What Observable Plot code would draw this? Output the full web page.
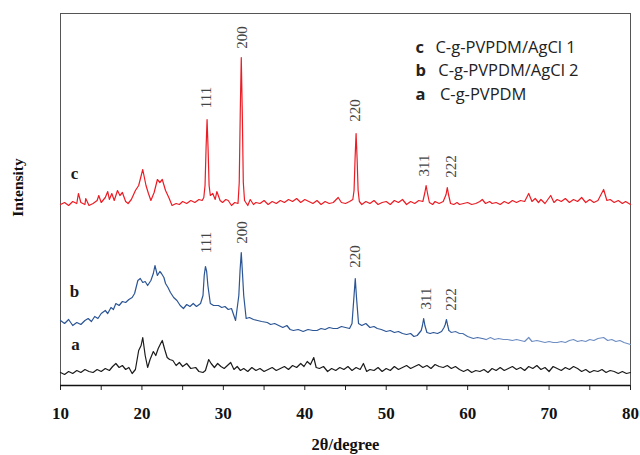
<!DOCTYPE html>
<html>
<head>
<meta charset="utf-8">
<script src="https://cdn.jsdelivr.net/npm/d3@7"></script>
<script src="https://cdn.jsdelivr.net/npm/@observablehq/plot@0.6"></script>
<style>
  html, body { margin: 0; padding: 0; background: #fff; }
  #chart svg { display: block; }
</style>
</head>
<body>
<div id="chart"></div>
<script>
// ---- data (2θ in degrees, intensity in arbitrary units) ----
const seriesC = [
[10,181],[10.5,183],[11,180],[11.5,184],[12,182],[12.2,192],[12.5,183],[13,181],[13.1,187],[13.5,180],
[14,182],[14.5,185],[14.7,190],[15,183],[15.5,188],[15.8,194],[16,186],[16.3,192],[16.6,185],[17,195],
[17.3,190],[17.6,193],[18,184],[18.3,182],[18.7,186],[19.2,195],[19.6,200],[20.1,216],[20.5,200],[20.8,192],
[21.1,185],[21.5,193],[21.9,206],[22.2,203],[22.5,206],[22.9,195],[23.3,188],[23.7,180],[24.2,182],[24.6,181],
[25,184],[25.5,182],[26,185],[26.5,183],[27,186],[27.4,185],[27.6,188],[27.75,200],[27.88,238],[28.0,266],
[28.12,238],[28.25,200],[28.4,190],[28.7,192],[29,186],[29.2,194],[29.6,185],[29.9,183],[30.3,186],[30.6,185],
[31,180],[31.4,183],[31.8,182],[31.95,203],[32.08,275],[32.2,328],[32.32,275],[32.45,203],[32.6,185],[33,180],
[33.3,186],[33.7,181],[34,183],[34.5,182],[35,185],[35.5,181],[36,184],[36.5,182],[37,185],[37.5,183],
[38,186],[38.5,184],[39,187],[39.5,183],[40,186],[40.5,184],[41,182],[41.5,185],[42,181],[42.5,184],
[43,182],[43.5,183],[44.1,188],[44.5,183],[45,182],[45.5,184],[45.9,186],[46.05,195],[46.18,228],[46.3,252],
[46.42,228],[46.55,195],[46.7,184],[47,181],[47.5,184],[48,182],[48.5,185],[49,181],[49.5,183],[50,184],
[50.5,181],[51,185],[51.5,183],[52,186],[52.5,181],[53,184],[53.5,182],[54,185],[54.5,184],[54.75,193],
[54.9,200],[55.05,193],[55.3,183],[55.7,181],[56,184],[56.5,182],[57,184],[57.35,191],[57.5,198],[57.65,191],
[57.9,182],[58.3,181],[58.7,183],[59,181],[59.5,182],[60,183],[60.5,181],[61,182],[61.5,184],[61.8,186],
[62.2,182],[62.7,184],[63,182],[63.5,183],[64,181],[64.5,184],[65,182],[65.5,185],[66,183],[66.5,185],
[67,184],[67.5,192],[67.9,184],[68.3,187],[68.7,183],[69,186],[69.5,182],[70.2,190],[70.6,183],[71,186],
[71.5,184],[72,187],[72.5,183],[73,186],[73.5,184],[74,188],[74.5,183],[75,186],[75.5,183],[76,185],
[76.7,196],[77.1,185],[77.5,186],[78,183],[78.5,185],[79,182],[79.4,184],[80,181]
];

const seriesB = [
[10,65],[10.5,62],[11,66],[11.5,60],[12,63],[12.5,61],[13,65],[13.4,67],[13.8,64],[14.2,69],
[14.6,67],[15,72],[15.5,75],[15.8,72],[16.2,78],[16.5,76],[16.8,82],[17.2,80],[17.6,84],[18,83],
[18.4,86],[18.8,88],[19.1,92],[19.5,105],[19.8,107],[20.1,103],[20.4,104],[20.7,100],[21.1,105],[21.4,112],
[21.6,120],[21.9,110],[22.2,114],[22.4,112],[22.7,108],[22.9,102],[23.2,98],[23.5,93],[23.9,88],[24.3,85],
[24.7,80],[25.1,77],[25.5,81],[25.9,79],[26.3,82],[26.7,79],[27.2,82],[27.5,90],[27.65,110],[27.8,119],
[27.95,114],[28.1,100],[28.4,82],[28.8,80],[29.4,80],[29.8,78],[30.2,79],[30.6,76],[31,77],[31.5,65],
[31.9,90],[32.05,115],[32.2,133],[32.35,112],[32.5,90],[32.8,67],[33.2,68],[33.7,66],[34.2,65],[34.7,64],
[35.4,63],[35.8,61],[36.3,62],[36.8,60],[37.3,58],[37.8,60],[38.2,56],[38.6,55],[39.2,56],[39.8,54],
[40.4,56],[41,55],[41.5,55],[42,57],[42.5,56],[43,58],[43.5,57],[44,57],[44.5,59],[45,58],
[45.5,57],[45.8,62],[46.05,90],[46.2,107],[46.35,88],[46.6,62],[47,60],[47.5,62],[48,58],[48.5,59],
[48.9,57],[49.4,56],[50,54],[50.5,55],[51,53],[51.5,54],[52,52],[52.5,51],[53,52],[53.4,49],
[53.8,50],[54.3,55],[54.45,60],[54.6,67],[54.75,60],[55,53],[55.4,52],[55.8,53],[56.3,52],[56.8,54],
[57.1,58],[57.25,61],[57.4,66],[57.55,60],[57.7,55],[58,53],[58.5,54],[59,52],[59.4,52],[60,49],
[60.7,47],[61.2,48],[61.8,47],[62.3,46],[62.8,48],[63.3,46],[63.8,47],[64.4,46],[64.9,46],[65.5,45],
[66,46],[66.5,45],[67,44],[67.5,48],[67.9,44],[68.5,45],[69,44],[69.5,43],[70,44],[70.5,43],
[71,43],[71.5,44],[72,43],[72.5,45],[73,46],[73.5,44],[74,45],[74.5,44],[75,46],[75.5,45],
[76,47],[76.7,48],[77.2,45],[77.7,46],[78.2,44],[78.7,45],[79.2,43],[79.6,42],[80,41]
];

const seriesA = [
[10,13],[10.5,11],[11,14],[11.5,12],[12,15],[12.5,13],[13,16],[13.5,14],[14,13],[14.5,16],
[15,14],[15.5,17],[16,15],[16.4,19],[16.8,22],[17.2,18],[17.6,20],[18,16],[18.4,18],[18.8,12],
[19.2,16],[19.6,35],[19.9,40],[20.1,48],[20.4,30],[20.7,18],[21,26],[21.4,34],[21.7,30],[22,37],
[22.3,42],[22.5,45],[22.8,36],[23.1,28],[23.4,26],[23.8,25],[24.2,20],[24.6,23],[25,19],[25.5,22],
[26,17],[26.6,18],[27,14],[27.5,13],[27.8,15],[28.2,26],[28.5,22],[28.9,18],[29.3,22],[29.7,19],
[30.1,17],[30.5,20],[30.9,23],[31.3,16],[31.7,19],[32.1,15],[32.5,17],[33,14],[33.5,18],[34,15],
[34.5,17],[35,14],[35.5,16],[36,18],[36.5,15],[37,17],[37.5,19],[38,16],[38.5,20],[39,18],
[39.5,22],[39.9,19],[40.3,24],[40.7,21],[41.1,28],[41.4,18],[41.8,17],[42.3,19],[42.8,14],[43.3,17],
[43.8,15],[44.3,18],[44.8,16],[45.3,19],[45.8,15],[46.3,18],[46.8,16],[47.2,22],[47.6,14],[48,16],
[48.5,15],[49,18],[49.5,14],[50,17],[50.5,15],[51,19],[51.5,16],[52,18],[52.5,20],[53,17],
[53.5,19],[54,21],[54.5,18],[55,20],[55.5,17],[56,21],[56.5,19],[57,18],[57.5,20],[58,17],
[58.5,19],[59,16],[59.5,14],[60,16],[60.5,13],[61,15],[61.5,14],[62,16],[62.5,13],[63,17],
[63.5,15],[64,18],[64.5,15],[65,17],[65.5,19],[66,16],[66.5,18],[67,15],[67.5,19],[68,17],
[68.5,20],[69,16],[69.5,18],[70,14],[70.5,19],[71,17],[71.5,15],[72,18],[72.5,16],[73,19],
[73.5,17],[74,14],[74.5,16],[75,13],[75.5,15],[76,14],[76.5,16],[77,13],[77.5,15],[78,14],
[78.5,12],[79,14],[79.5,12],[80,13]
];

const hkl = ["111", "200", "220", "311", "222"];
const hklAngleC = [27.93, 32.35, 46.23, 54.7, 58.0];
const hklAngleB = [27.93, 32.35, 46.23, 54.9, 58.0];
const seriesLetters = ["c", "b", "a"];
const seriesNames = ["C-g-PVPDM/AgCl 1", "C-g-PVPDM/AgCl 2", "C-g-PVPDM"];
const xTicks = [10, 15, 20, 25, 30, 35, 40, 45, 50, 55, 60, 65, 70, 75, 80];

// ---- chart ----
const serif = "'Liberation Serif', 'DejaVu Serif', serif";
const sans = "'Open Sans', 'Noto Sans', sans-serif";
const X = d => d[0], Y = d => d[1];

const hklC = hkl.map((t, i) => ({t, x: hklAngleC[i], y: [288, 348, 275, 220, 219][i]}));
const hklB = hkl.map((t, i) => ({t, x: hklAngleB[i], y: [143, 153, 129, 87, 86][i]}));
const legend = seriesLetters.map((l, i) => ({l, n: seriesNames[i], y: [338, 315, 291][i], x2: [56.05, 56.4, 56.6][i]}));
const traceLabels = seriesLetters.map((l, i) => ({l, x: [11.72, 11.72, 11.84][i], y: [212, 94, 41][i]}));

const chart = Plot.plot({
  width: 640,
  height: 455,
  marginLeft: 60,
  marginRight: 10,
  marginTop: 13,
  marginBottom: 70,
  x: {domain: [10, 80]},
  y: {domain: [0, 372], axis: null},
  style: {background: "#fff", fontFamily: serif},
  marks: [
    Plot.ruleX([10, 80], {stroke: "#555", strokeWidth: 1}),
    Plot.ruleY([372], {stroke: "#555", strokeWidth: 1}),
    Plot.line(seriesA, {x: X, y: Y, stroke: "#1c1c1c", strokeWidth: 1.2}),
    Plot.line(seriesB.filter(d => d[0] <= 57.8), {x: X, y: Y, stroke: "#2b5595", strokeWidth: 1.2}),
    Plot.line(seriesB.filter(d => d[0] >= 57.7 && d[0] <= 62.3), {x: X, y: Y, stroke: "#4b70ac", strokeWidth: 1.2}),
    Plot.line(seriesB.filter(d => d[0] >= 62.3), {x: X, y: Y, stroke: "#6f8fc4", strokeWidth: 1.2}),
    Plot.line(seriesC, {x: X, y: Y, stroke: "#ec1c24", strokeWidth: 1.2}),
    Plot.text(hklC, {x: "x", y: "y", text: "t", rotate: -90, fontSize: 15, fontFamily: serif, fill: "#444"}),
    Plot.text(hklB, {x: "x", y: "y", text: "t", rotate: -90, fontSize: 15, fontFamily: serif, fill: "#444"}),
    Plot.text(traceLabels, {x: "x", y: "y", text: "l", fontSize: 17, fontWeight: "bold", fontFamily: serif, fill: "#1a1a1a"}),
    Plot.text(legend, {x: 53.6, y: "y", text: "l", textAnchor: "start", fontSize: 16.5, fontWeight: "bold", fontFamily: sans, fill: "#222"}),
    Plot.text(legend, {x: "x2", y: "y", text: "n", textAnchor: "start", fontSize: 16.5, fontFamily: sans, fill: "#222"}),
    Plot.axisX({ticks: xTicks, tickSize: 5, tickPadding: 16, tickFormat: d => d % 10 === 0 ? String(d) : "",
      fontSize: 17, fontFamily: serif, fontWeight: "bold", label: null, stroke: "#222", fill: "#111"}),
    Plot.ruleY([0], {stroke: "#111", strokeWidth: 1.5}),
    Plot.text(["2θ/degree"], {frameAnchor: "bottom", dy: 59, lineAnchor: "middle", textAnchor: "middle", fontSize: 16.5, fontWeight: "bold", fontFamily: serif, fill: "#111"}),
    Plot.text(["Intensity"], {frameAnchor: "left", dx: -42, dy: -12, rotate: -90, textAnchor: "middle", lineAnchor: "middle", fontSize: 15.5, fontWeight: "bold", fontFamily: serif, fill: "#111"})
  ]
});
document.getElementById("chart").appendChild(chart);
</script>
</body>
</html>
